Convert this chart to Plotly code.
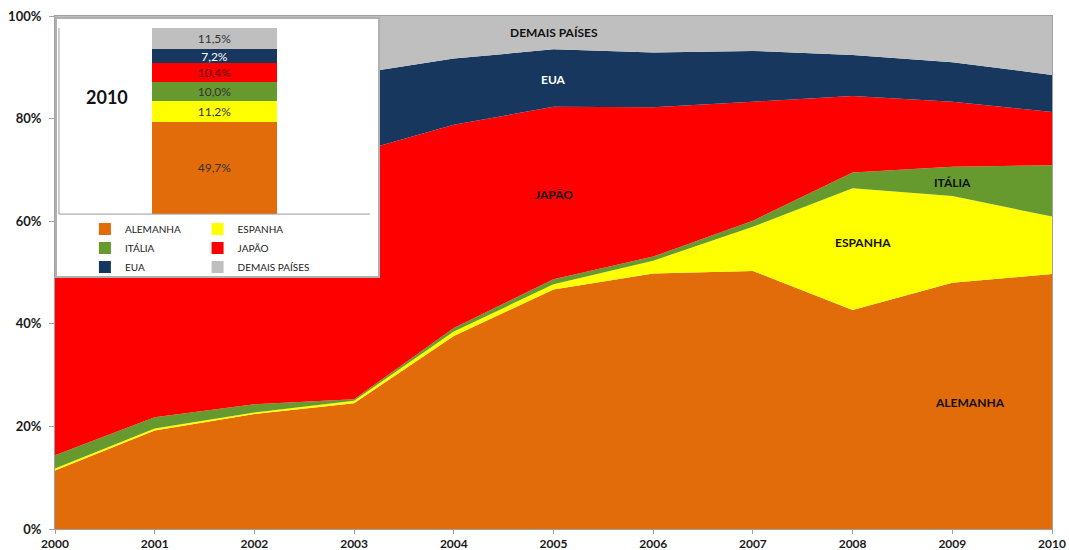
import plotly.graph_objects as go

# share of installed photovoltaic capacity (%)
YEARS = list(range(2000, 2011))
COUNTRIES = ["ALEMANHA", "ESPANHA", "ITÁLIA", "JAPÃO", "EUA", "DEMAIS PAÍSES"]
ALEMANHA = [11.4, 19.2, 22.4, 24.5, 37.6, 46.7, 49.8, 50.3, 42.7, 48.0, 49.7]
ESPANHA = [0.4, 0.4, 0.3, 0.5, 0.9, 1.0, 2.5, 8.6, 23.7, 16.9, 11.2]
ITALIA = [2.6, 2.2, 1.6, 0.3, 0.7, 1.0, 0.8, 1.2, 3.1, 5.7, 10.0]
JAPAO = [48.8, 44.7, 45.7, 48.0, 39.6, 33.6, 29.1, 23.2, 14.9, 12.7, 10.4]
EUA = [20.4, 19.0, 17.2, 15.4, 12.9, 11.2, 10.7, 9.9, 8.0, 7.7, 7.2]
DEMAIS = [16.4, 14.5, 12.8, 11.3, 8.3, 6.5, 7.1, 6.8, 7.6, 9.0, 11.5]
SERIES = [ALEMANHA, ESPANHA, ITALIA, JAPAO, EUA, DEMAIS]

INSET_YEAR = "2010"
Y_TICKS = [0, 20, 40, 60, 80, 100]
Y_TICK_LABELS = ["0%", "20%", "40%", "60%", "80%", "100%"]

COLORS = ["#E36C0A", "#FFFF00", "#669A2E", "#FF0000", "#17375E", "#BFBFBF"]
BAR_TEXT_COLORS = ["#333333", "#333333", "#333333", "#5a0000", "#FFFFFF", "#333333"]
LEGEND_OF = ["legend", "legend2", "legend", "legend2", "legend", "legend2"]

FONT = "Lato"

fig = go.Figure()

# main 100% stacked area
for name, vals, color in zip(COUNTRIES, SERIES, COLORS):
    fig.add_trace(go.Scatter(
        x=YEARS, y=vals, name=name, mode="none",
        stackgroup="one", groupnorm="percent",
        fillcolor=color, showlegend=False,
        xaxis="x", yaxis="y",
    ))

# inset: stacked bar of the last year
for name, vals, color, tcol, leg in zip(COUNTRIES, SERIES, COLORS, BAR_TEXT_COLORS, LEGEND_OF):
    fig.add_trace(go.Bar(
        x=[0], y=[vals[-1]], name=name, width=1,
        marker=dict(color=color, line=dict(width=0)),
        texttemplate="%{y:.1f}%", textposition="inside",
        insidetextanchor="middle", textangle=0,
        textfont=dict(family=FONT, size=12, color=tcol),
        constraintext="none",
        xaxis="x2", yaxis="y2", legend=leg,
    ))

# labels on the areas
area_labels = [
    ("DEMAIS PAÍSES", 2005.0, 96.7, "#111111"),
    ("EUA", 2005.0, 87.7, "#FFFFFF"),
    ("JAPÃO", 2005.0, 65.3, "#111111"),
    ("ITÁLIA", 2009.0, 67.6, "#111111"),
    ("ESPANHA", 2008.1, 55.9, "#111111"),
    ("ALEMANHA", 2009.18, 24.6, "#111111"),
]
for text, x, y, c in area_labels:
    fig.add_annotation(x=x, y=y, xref="x", yref="y", text=text, showarrow=False,
                       font=dict(family=FONT, size=12, color=c, weight="bold"))

fig.add_annotation(x=0.052, y=0.842, xref="paper", yref="paper", text=INSET_YEAR,
                   xanchor="center", yanchor="middle", showarrow=False,
                   font=dict(family=FONT, size=18, color="#111111", weight="bold"))

# inset frame and its inner axis lines
fig.add_shape(type="rect", xref="paper", yref="paper", x0=0.001, x1=0.325, y0=0.491, y1=0.996,
              line=dict(color="#B0B0B0", width=2), fillcolor="rgba(0,0,0,0)", layer="above")
fig.add_shape(type="line", xref="x2", yref="y2", x0=-1.244, x1=-1.244, y0=0, y1=100,
              line=dict(color="#9A9A9A", width=1), layer="above")
fig.add_shape(type="line", xref="x2", yref="y2", x0=-1.244, x1=1.244, y0=0, y1=0,
              line=dict(color="#9A9A9A", width=1), layer="above")

y_font = dict(family=FONT, size=13, color="#1a1a1a", weight="bold")
x_font = dict(family=FONT, size=12, color="#1a1a1a", weight="bold")
legend_font = dict(family=FONT, size=10, color="#222222")

fig.update_layout(
    width=1069, height=550,
    margin=dict(l=55, r=17, t=16, b=21),
    paper_bgcolor="white", plot_bgcolor="white",
    separators=", ",
    barmode="stack",
    font=dict(family=FONT),
    xaxis=dict(range=[2000, 2010], tickvals=YEARS, showgrid=False, zeroline=False,
               showline=True, linecolor="#A0A0A0", mirror=True, automargin=False,
               ticks="outside", ticklen=4, tickcolor="#A0A0A0", tickfont=x_font,
               ticklabelstandoff=0),
    yaxis=dict(range=[0, 100], tickvals=Y_TICKS, ticktext=Y_TICK_LABELS, showgrid=False,
               zeroline=False, showline=True, linecolor="#A0A0A0", mirror=True,
               automargin=False, ticks="outside", ticklen=5, tickcolor="#A0A0A0",
               tickfont=y_font, ticklabelstandoff=5),
    xaxis2=dict(domain=[0.001, 0.325], range=[-1.268, 1.316], visible=False, anchor="y2"),
    yaxis2=dict(domain=[0.491, 0.996], range=[-33.9, 105.4], visible=False, anchor="x2"),
    legend=dict(x=0.030, y=0.613, xanchor="left", yanchor="top", orientation="v",
                traceorder="normal", font=legend_font, bgcolor="rgba(0,0,0,0)",
                itemclick=False, tracegroupgap=0),
    legend2=dict(x=0.143, y=0.613, xanchor="left", yanchor="top", orientation="v",
                 traceorder="normal", font=legend_font, bgcolor="rgba(0,0,0,0)",
                 itemclick=False, tracegroupgap=0),
)

# the page body has a default 8px margin; drop it so the figure fills the window
fig.write_html("out.html", config={"displayModeBar": False},
               post_script="document.body.style.margin='0';")
